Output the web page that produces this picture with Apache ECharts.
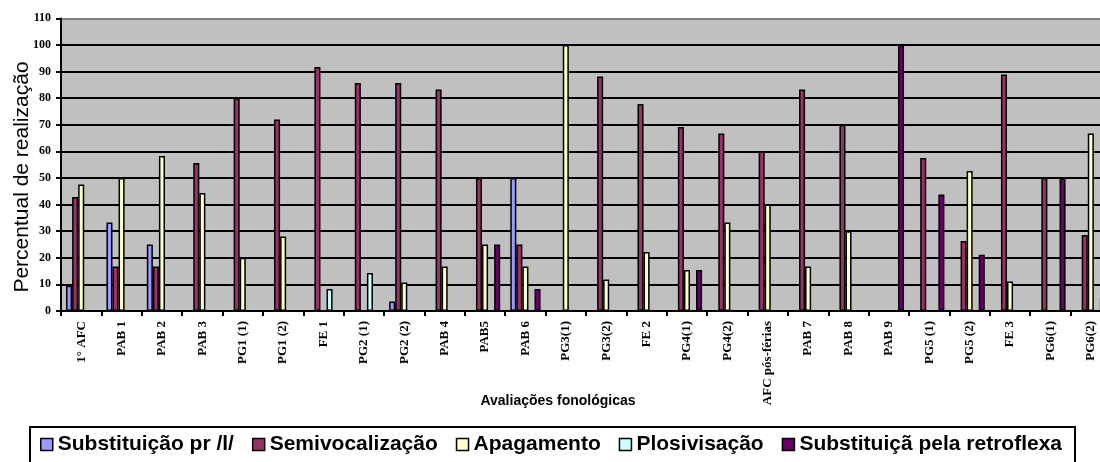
<!DOCTYPE html>
<html>
<head>
<meta charset="utf-8">
<title>Avaliações fonológicas</title>
<script src="https://cdn.jsdelivr.net/npm/echarts@6/dist/echarts.min.js"></script>
<style>
    html, body { margin: 0; padding: 0; background: #fff; }
    #chart { width: 1100px; height: 462px; }
</style>
</head>
<body>
<div id="chart"></div>
<script>
    var categories = ['1° AFC', 'PAB 1', 'PAB 2', 'PAB 3', 'PG1 (1)', 'PG1 (2)', 'FE 1', 'PG2 (1)', 'PG2 (2)',
        'PAB 4', 'PAB5', 'PAB 6', 'PG3(1)', 'PG3(2)', 'FE 2', 'PG4(1)', 'PG4(2)', 'AFC pós-férias',
        'PAB 7', 'PAB 8', 'PAB 9', 'PG5 (1)', 'PG5 (2)', 'FE 3', 'PG6(1)', 'PG6(2)'];

    var substituicao = [9.5, 33.3, 25, 0, 0, 0, 0, 0, 3.6, 0, 0, 50, 0, 0, 0, 0, 0, 0, 0, 0, 0, 0, 0, 0, 0, 0];
    var semivocalizacao = [42.9, 16.7, 16.7, 55.6, 80, 72, 91.7, 85.7, 85.7, 83.3, 50, 25, 0, 88.2, 77.8, 69.2,
        66.7, 60, 83.3, 70, 0, 57.5, 26.3, 88.9, 50, 28.6];
    var apagamento = [47.6, 50, 58.3, 44.4, 20, 28, 0, 0, 10.7, 16.7, 25, 16.7, 100, 11.8, 22.2, 15.4,
        33.3, 40, 16.7, 30, 0, 0, 52.6, 11.1, 0, 66.7];
    var plosivisacao = [0, 0, 0, 0, 0, 0, 8.3, 14.3, 0, 0, 0, 0, 0, 0, 0, 0, 0, 0, 0, 0, 0, 0, 0, 0, 0, 0];
    var retroflexa = [0, 0, 0, 0, 0, 0, 0, 0, 0, 0, 25, 8.3, 0, 0, 0, 15.4, 0, 0, 0, 0, 100, 43.8, 21.1, 0, 50, 4.8];

    var yTicks = [0, 10, 20, 30, 40, 50, 60, 70, 80, 90, 100, 110];

    var seriesNames = ['Substituição pr /l/', 'Semivocalização', 'Apagamento', 'Plosivisação', 'Substituiçã pela retroflexa'];
    var seriesData = [substituicao, semivocalizacao, apagamento, plosivisacao, retroflexa];
    var colors = ['#9999FF', '#993366', '#FFFFCC', '#CCFFFF', '#660066'];

    // gridlines black, top one is the gray plot border
    var splitColors = yTicks.map(function (t, i) {
        return i === yTicks.length - 1 ? '#808080' : '#000';
    });

    var myChart = echarts.init(document.getElementById('chart'));
    var option = {
        backgroundColor: '#fff',
        animation: false,
        color: colors,
        grid: {
            left: 61,
            top: 18.4,
            width: 1050,
            height: 292.6,
            outerBoundsMode: 'none',
            show: true,
            backgroundColor: '#C0C0C0',
            borderWidth: 0
        },
        legend: {
            data: seriesNames,
            left: 40,
            top: 434,
            padding: 0,
            itemGap: 18,
            itemWidth: 12,
            itemHeight: 12,
            icon: 'rect',
            itemStyle: {
                borderColor: '#000',
                borderWidth: 1.5
            },
            textStyle: {
                fontFamily: 'Liberation Sans',
                fontWeight: 'bold',
                fontSize: 21,
                color: '#000'
            }
        },
        xAxis: {
            type: 'category',
            data: categories,
            axisLine: { lineStyle: { color: '#000', width: 2 } },
            axisTick: { show: true, length: 5, lineStyle: { color: '#000', width: 2 } },
            axisLabel: {
                interval: 0,
                rotate: 90,
                margin: 10,
                fontFamily: 'Liberation Serif',
                fontWeight: 'bold',
                fontSize: 13,
                color: '#000'
            },
            splitLine: { show: false }
        },
        yAxis: {
            type: 'value',
            min: 0,
            max: 110,
            interval: 10,
            axisLine: { show: true, lineStyle: { color: '#000', width: 2 } },
            axisTick: { show: true, length: 5, lineStyle: { color: '#000', width: 2 } },
            axisLabel: {
                margin: 10,
                fontFamily: 'Liberation Serif',
                fontWeight: 'bold',
                fontSize: 12,
                color: '#000'
            },
            splitLine: { show: true, lineStyle: { color: splitColors, width: 1.8 } }
        },
        graphic: [
            {
                type: 'text',
                x: 22,
                y: 177,
                rotation: Math.PI / 2,
                style: {
                    text: 'Percentual de realização',
                    fontFamily: 'Liberation Sans',
                    fontSize: 21,
                    fill: '#000',
                    textAlign: 'center',
                    textVerticalAlign: 'middle'
                }
            },
            {
                type: 'text',
                x: 558,
                y: 401,
                style: {
                    text: 'Avaliações fonológicas',
                    fontFamily: 'Liberation Sans',
                    fontWeight: 'bold',
                    fontSize: 14,
                    fill: '#000',
                    textAlign: 'center',
                    textVerticalAlign: 'middle'
                }
            },
            {
                type: 'rect',
                shape: { x: 30, y: 427, width: 1045, height: 45 },
                style: { fill: 'none', stroke: '#000', lineWidth: 2 }
            }
        ],
        series: seriesNames.map(function (name, i) {
            return {
                name: name,
                type: 'bar',
                data: seriesData[i],
                barGap: '0%',
                barCategoryGap: '25%',
                itemStyle: {
                    color: colors[i],
                    borderColor: '#000',
                    borderWidth: 1.5
                }
            };
        })
    };
    myChart.setOption(option, true);
    window.addEventListener('resize', function () {
        myChart.resize();
    });
</script>
</body>
</html>
